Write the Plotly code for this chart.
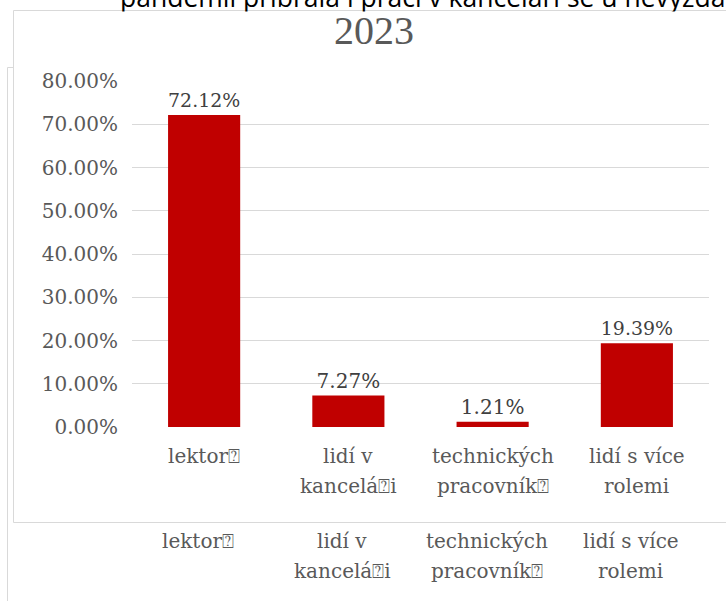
import plotly.graph_objects as go

# data
categories = ["lektorů", "lidí v kanceláři", "technických pracovníků", "lidí s více rolemi"]
shares = [0.7212, 0.0727, 0.0121, 0.1939]
label_lines = [
    ["lektor\u2370"],
    ["lidí v", "kancelá\u2370i"],
    ["technických", "pracovník\u2370"],
    ["lidí s více", "rolemi"],
]
y_ticks = [0, 0.1, 0.2, 0.3, 0.4, 0.5, 0.6, 0.7, 0.8]
title_text = "2023"
top_text = "pandemii přibrala i práci v kanceláři se u nevyzda"

W, H = 726, 601
L, R, T, B = 132, 709, 81, 427  # plot area in pixels
GRID = "#D9D9D9"
TXT = "#595959"
SERIF = "DejaVu Serif"


def px(x):
    return (x - L) / (R - L)


def py(y):
    return (B - y) / (B - T)


fig = go.Figure()
fig.add_trace(go.Bar(
    x=categories,
    y=shares,
    marker=dict(color="#C00000", line=dict(width=0)),
    texttemplate="%{y:.2%}",
    textposition="outside",
    textfont=dict(family=SERIF, size=20, color="#404040"),
    cliponaxis=False,
    hoverinfo="skip",
))

fig.update_layout(
    width=W,
    height=H,
    margin=dict(l=L, r=W - R, t=T, b=H - B),
    paper_bgcolor="white",
    plot_bgcolor="white",
    bargap=0.5,
    showlegend=False,
    xaxis=dict(showticklabels=False, showgrid=False, showline=False, zeroline=False),
    yaxis=dict(
        range=[0, 0.8],
        tickvals=y_ticks,
        tickformat=".2%",
        showgrid=True,
        gridcolor=GRID,
        gridwidth=1,
        zeroline=False,
        showline=False,
        ticks="",
        ticklabelstandoff=13,
        tickfont=dict(family=SERIF, size=20, color=TXT),
    ),
)

# frame lines
line_style = dict(color=GRID, width=1)
fig.add_shape(type="rect", xref="paper", yref="paper",
              x0=px(13.5), x1=px(760), y0=py(522.5), y1=py(10.5),
              line=line_style, layer="below")
fig.add_shape(type="line", xref="paper", yref="paper",
              x0=px(7.5), x1=px(7.5), y0=py(67.5), y1=py(640), line=line_style)
fig.add_shape(type="line", xref="paper", yref="paper",
              x0=px(7.5), x1=px(13.5), y0=py(67.5), y1=py(67.5), line=line_style)

annotations = []
# clipped text from the document above the chart
annotations.append(dict(text=top_text, xref="paper", yref="paper", x=px(118), y=py(-23),
                        xanchor="left", yanchor="top", showarrow=False,
                        font=dict(family="Open Sans", size=26.5, color="#000000")))
# white band hiding the descenders of that text
annotations.append(dict(text=" ", xref="paper", yref="paper", x=px(14.5), y=py(11),
                        xanchor="left", yanchor="top", showarrow=False, width=712, height=6,
                        borderpad=0, bgcolor="white", font=dict(size=2)))
# title
annotations.append(dict(text=title_text, xref="paper", yref="paper", x=px(374), y=py(6),
                        xanchor="center", yanchor="top", showarrow=False,
                        font=dict(family="Liberation Serif", size=40, color=TXT)))

# category labels (inside chart) and duplicate labels below the frame
for cat, lines in zip(categories, label_lines):
    for i, line in enumerate(lines):
        annotations.append(dict(text=line, xref="x", yref="paper", x=cat, y=py(456 + 30 * i),
                                xanchor="center", yanchor="middle", showarrow=False,
                                font=dict(family=SERIF, size=20, color=TXT)))
        annotations.append(dict(text=line, xref="x", yref="paper", x=cat, y=py(541 + 30 * i),
                                xanchor="center", yanchor="middle", showarrow=False, xshift=-6,
                                font=dict(family=SERIF, size=20, color=TXT)))

fig.update_layout(annotations=annotations)

fig.write_html("out.html", config={"displayModeBar": False},
               post_script="document.body.style.margin='0';")
